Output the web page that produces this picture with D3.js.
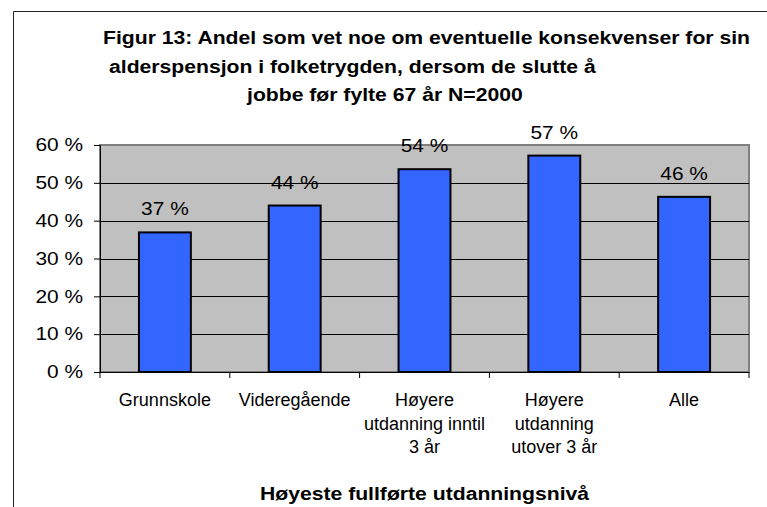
<!DOCTYPE html>
<html>
<head>
<meta charset="utf-8">
<script src="https://cdn.jsdelivr.net/npm/d3@7"></script>
<style>
  body { margin: 0; background: #fff; }
  svg { font-family: Arial, "Liberation Sans", sans-serif; }
</style>
</head>
<body>
<svg id="chart"></svg>
<script>
// data
const categories = ["Grunnskole", "Videregående", "Høyere utdanning inntil 3 år", "Høyere utdanning utover 3 år", "Alle"];
const categoryLines = [["Grunnskole"], ["Videregående"], ["Høyere", "utdanning inntil", "3 år"], ["Høyere", "utdanning", "utover 3 år"], ["Alle"]];
const shares = [36.9, 44.0, 53.6, 57.2, 46.3];
const yTicks = [0, 10, 20, 30, 40, 50, 60];
const titleLines = [
    "Figur 13: Andel som vet noe om eventuelle konsekvenser for sin",
    "alderspensjon i folketrygden, dersom de slutte å",
    "jobbe før fylte 67 år N=2000"
];
const xTitle = "Høyeste fullførte utdanningsnivå";

const width = 767, height = 507;
const plot = { left: 100, right: 749, top: 145, bottom: 372 };
// the original picture is stretched sideways for some texts
const boldStretch = 1.21;
const numStretch = 1.16;

const svg = d3.select("#chart").attr("width", width).attr("height", height);

// outer frame (only top and left show in the picture)
svg.append("path")
    .attr("d", `M13.5,${height} V11.5 H${width}`)
    .attr("fill", "none")
    .attr("stroke", "#222")
    .attr("stroke-width", 1);

// title, lines placed like the original wrap
const titleX = [103, 109, 247];
const titleY = [44, 73, 101];
svg.append("g").selectAll("g")
    .data(titleLines)
    .enter()
    .append("g")
    .attr("transform", (d, i) => `translate(${titleX[i]},${titleY[i]}) scale(${boldStretch},1)`)
    .append("text")
    .attr("font-size", 17.5)
    .attr("font-weight", "bold")
    .text(d => d);

const x = d3.scaleBand()
    .domain(categories)
    .range([plot.left, plot.right])
    .paddingInner(0.6)
    .paddingOuter(0.3);

const y = d3.scaleLinear().domain([0, 60]).range([plot.bottom, plot.top]);

// plot area background
svg.append("rect")
    .attr("x", plot.left)
    .attr("y", plot.top)
    .attr("width", plot.right - plot.left)
    .attr("height", plot.bottom - plot.top)
    .attr("fill", "#c0c0c0")
    .attr("stroke", "#808080")
    .attr("stroke-width", 2);

// gridlines
svg.append("g").selectAll("line")
    .data(yTicks.filter(d => d > 0 && d < 60))
    .enter()
    .append("line")
    .attr("x1", plot.left)
    .attr("x2", plot.right)
    .attr("y1", d => Math.round(y(d)) + 0.5)
    .attr("y2", d => Math.round(y(d)) + 0.5)
    .attr("stroke", "#000")
    .attr("stroke-width", 1);

// bars
svg.append("g").selectAll("rect")
    .data(shares)
    .enter()
    .append("rect")
    .attr("x", (d, i) => x(categories[i]))
    .attr("y", d => y(d))
    .attr("width", x.bandwidth())
    .attr("height", d => y(0) - y(d))
    .attr("fill", "#3366ff")
    .attr("stroke", "#000")
    .attr("stroke-width", 2);

// value labels
svg.append("g").selectAll("g")
    .data(shares)
    .enter()
    .append("g")
    .attr("transform", (d, i) => `translate(${x(categories[i]) + x.bandwidth() / 2},${y(d) - 17}) scale(${numStretch},1)`)
    .append("text")
    .attr("text-anchor", "middle")
    .attr("font-size", 18)
    .attr("fill", "#000")
    .text(d => Math.round(d) + " %");

// y axis
const yAxis = svg.append("g")
    .attr("transform", `translate(${plot.left},0)`)
    .call(d3.axisLeft(y).tickValues(yTicks).tickSize(6).tickPadding(8.6).tickFormat(d => d + " %"));
yAxis.select(".domain").attr("stroke", "#000");
yAxis.selectAll("text")
    .attr("font-size", 18)
    .attr("font-family", "Arial, 'Liberation Sans', sans-serif")
    .attr("fill", "#000")
    .attr("transform", `scale(${numStretch},1)`);

// x axis with ticks on category boundaries
const xAxisG = svg.append("g").attr("transform", `translate(0,${plot.bottom})`);
xAxisG.append("line")
    .attr("x1", plot.left).attr("x2", plot.right)
    .attr("y1", 0.5).attr("y2", 0.5)
    .attr("stroke", "#000");
const step = x.step();
xAxisG.selectAll("line.tick")
    .data(d3.range(categories.length + 1))
    .enter()
    .append("line")
    .attr("class", "tick")
    .attr("x1", i => plot.left + i * step)
    .attr("x2", i => plot.left + i * step)
    .attr("y1", 0)
    .attr("y2", 6)
    .attr("stroke", "#000");

// category labels
const catLabels = xAxisG.selectAll("text")
    .data(categoryLines)
    .enter()
    .append("text")
    .attr("text-anchor", "middle")
    .attr("font-size", 18)
    .attr("fill", "#000");
catLabels.selectAll("tspan")
    .data((d, i) => d.map(line => ({ line, i })))
    .enter()
    .append("tspan")
    .attr("x", d => x(categories[d.i]) + x.bandwidth() / 2)
    .attr("y", (d, j) => 34 + j * 23.5)
    .text(d => d.line);

// x axis title
svg.append("g")
    .attr("transform", `translate(${(plot.left + plot.right) / 2},500) scale(${boldStretch},1)`)
    .append("text")
    .attr("text-anchor", "middle")
    .attr("font-size", 17.5)
    .attr("font-weight", "bold")
    .text(xTitle);
</script>
</body>
</html>
